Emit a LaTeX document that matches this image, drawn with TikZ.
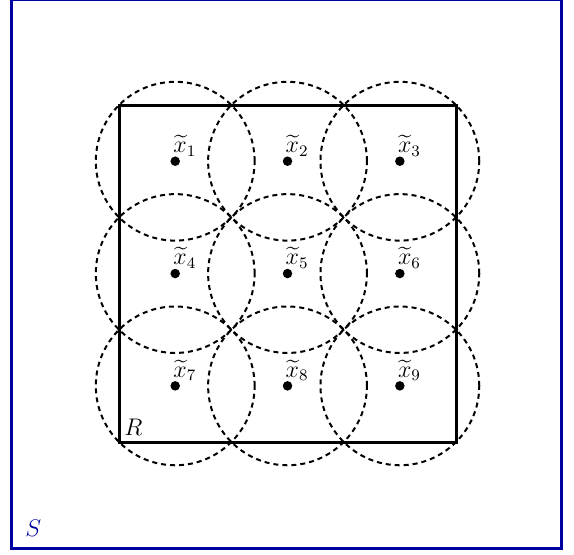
\documentclass[tikz,border=0pt]{standalone}
\usepackage{amsmath,amssymb}
\usepackage{tikz}
\usetikzlibrary{positioning}
\definecolor{setblue}{RGB}{0,0,160}

\begin{document}
\begin{tikzpicture}[x=0.5pt, y=-0.5pt, every node/.style={font=\large}, pt/.style={circle, fill, inner sep=0pt, minimum size=4.75pt}, ball/.style={draw, dash pattern=on 2.5pt off 2pt, line width=1pt}, lab/.style={anchor=base west, inner sep=0pt}]
\useasboundingbox (0,0) rectangle (574,554);
\draw[setblue, line width=1.5pt] (11.5,-0.5) rectangle (561.5,548.5);
\node[text=setblue, lab] (S) at (25,536) {$S$};
\draw[line width=1.5pt] (119,105) rectangle (456,442);
\node[lab] (R) at (124,435) {$R$};
\foreach \i in {0,1,2} \foreach \j in {0,1,2} {
  \pgfmathtruncatemacro\k{3*\i+\j+1}
  \node[pt] (x\k) at (175.2+112.33*\j, 161.2+112.33*\i) {};
  \node[lab] (l\k) at (173+112.33*\j, 152.5+112.33*\i) {$\widetilde{x}_{\k}$};
  \draw[ball] (x\k) circle (39.7pt);
}
\end{tikzpicture}
\end{document}
